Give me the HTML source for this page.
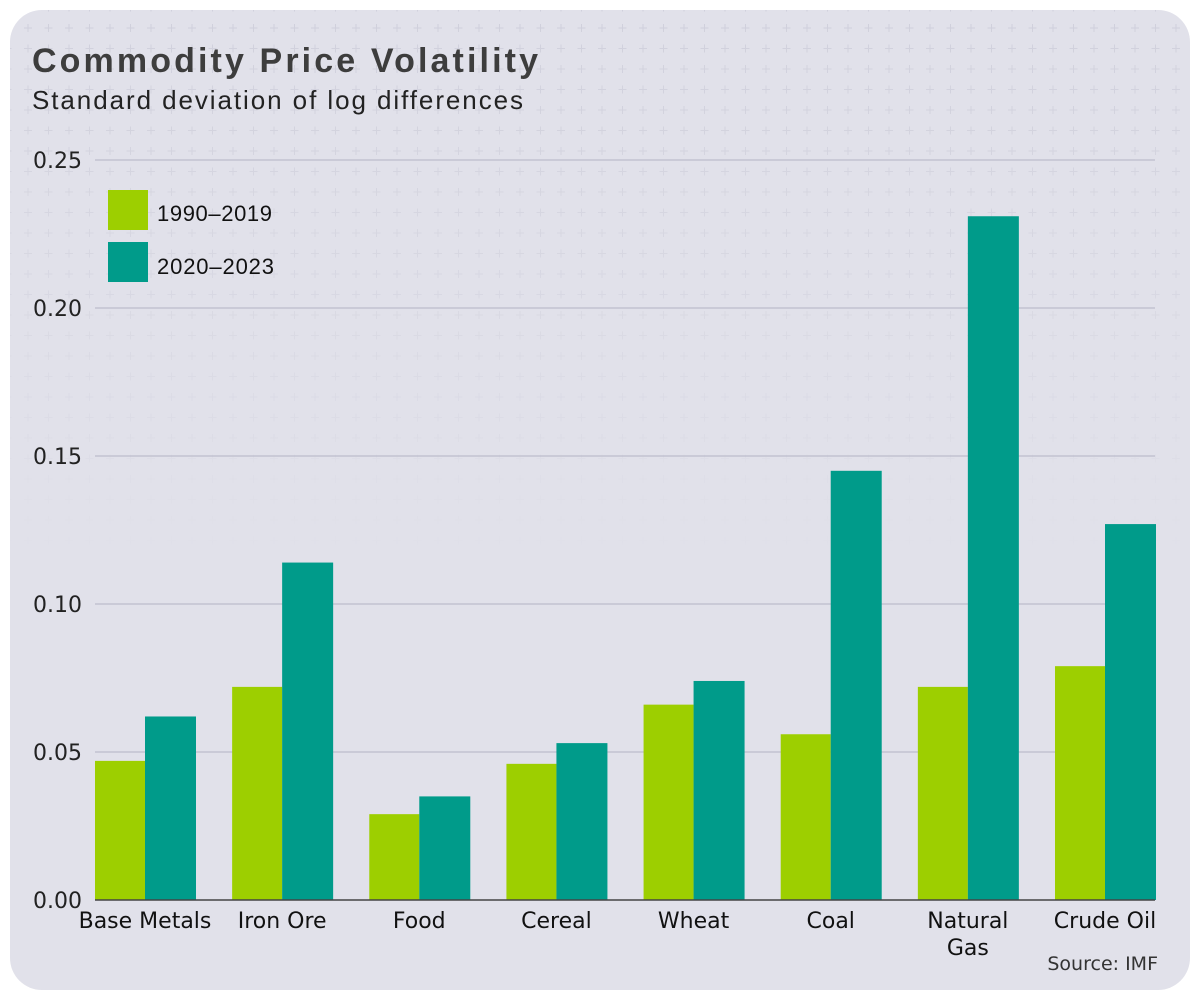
<!DOCTYPE html>
<html><head><meta charset="utf-8"><style>
html,body{margin:0;padding:0;background:#fff;}
body{width:1200px;height:1000px;position:relative;overflow:hidden;font-family:"Liberation Sans",sans-serif;}
</style></head><body>
<svg width="1200" height="1000" xmlns="http://www.w3.org/2000/svg">
<defs>
<pattern id="plus" width="20.5" height="20.5" patternUnits="userSpaceOnUse" x="18" y="18">
<path d="M6 10h8M10 6v8" stroke="#cfcfdb" stroke-width="1"/>
</pattern>
<linearGradient id="fade" x1="0" y1="0" x2="0" y2="1">
<stop offset="0" stop-color="#fff" stop-opacity="1"/>
<stop offset="1" stop-color="#fff" stop-opacity="0"/>
</linearGradient>
<mask id="m"><rect x="0" y="0" width="1200" height="560" fill="url(#fade)"/></mask>
</defs>
<rect x="10" y="10" width="1180" height="980" rx="32" fill="#e1e1ea"/>
<rect x="10" y="10" width="1180" height="560" rx="32" fill="url(#plus)" mask="url(#m)"/>
<text x="32" y="72" font-size="34" font-weight="bold" fill="#3d3d3d" textLength="506" lengthAdjust="spacing">Commodity Price Volatility</text>
<text x="32" y="109" font-size="26" fill="#222" textLength="491" lengthAdjust="spacing">Standard deviation of log differences</text>
<g id="grid"></g>
<g id="bars"></g>
<g id="labels"></g>
<g>
<rect x="108" y="190" width="40" height="40" fill="#9dcf00"/>
<text x="157" y="221" font-size="22" fill="#111" textLength="115" lengthAdjust="spacing">1990–2019</text>
<rect x="108" y="242" width="40" height="40" fill="#009b8a"/>
<text x="157" y="274" font-size="22" fill="#111" textLength="117" lengthAdjust="spacing">2020–2023</text>
</g>
<text x="1158" y="970" font-size="19" fill="#333" text-anchor="end" font-family="DejaVu Sans">Source: IMF</text>
</svg>
<script>
const categories=["Base Metals","Iron Ore","Food","Cereal","Wheat","Coal","Natural Gas","Crude Oil"];
const series1990=[0.047,0.072,0.029,0.046,0.066,0.056,0.072,0.079];
const series2020=[0.062,0.114,0.035,0.053,0.074,0.145,0.231,0.127];
const ticks=[0,0.05,0.10,0.15,0.20,0.25];
const tickLabels=["0.00","0.05","0.10","0.15","0.20","0.25"];
const NS="http://www.w3.org/2000/svg";
const x0=95,x1=1155,y0=900,y1=160,vmax=0.25;
const step=(x1-x0-100)/(categories.length-1),bw=50;
function y(v){return y0-(v/vmax)*(y0-y1);}
function gx(i){return x0+i*step;}
function mk(tag,attrs,parent){const e=document.createElementNS(NS,tag);for(const k in attrs)e.setAttribute(k,attrs[k]);parent.appendChild(e);return e;}
const grid=document.getElementById('grid'),bars=document.getElementById('bars'),labels=document.getElementById('labels');
ticks.forEach((t,i)=>{
 if(i>0){const l=mk('line',{x1:x0,x2:x1,y1:y(t),y2:y(t),stroke:'#b4b4c4','stroke-width':1},grid);
 
 }
 const tx=mk('text',{x:33,y:y(t)+8,'font-size':22,fill:'#222','font-family':'DejaVu Sans'},grid);
 tx.textContent=tickLabels[i];
 
 
});
categories.forEach((c,i)=>{
 const b1=mk('rect',{x:gx(i),y:y(series1990[i]),width:bw,height:y0-y(series1990[i]),fill:'#9dcf00'},bars);
 
 
 const b2=mk('rect',{x:gx(i)+bw,y:y(series2020[i]),width:bw+1,height:y0-y(series2020[i]),fill:'#009b8a'},bars);
 
 
 const words=c==="Natural Gas"?["Natural","Gas"]:[c];
 words.forEach((w,j)=>{
  const t=mk('text',{x:gx(i)+bw,y:928+j*27,'font-size':22,fill:'#111','text-anchor':'middle','font-family':'DejaVu Sans'},labels);
  t.textContent=w;
  
  
 });
});
const base=mk('line',{x1:x0,x2:x1,y1:y0,y2:y0,stroke:'#444','stroke-width':1.5},grid.parentNode);


</script>
</body></html>
